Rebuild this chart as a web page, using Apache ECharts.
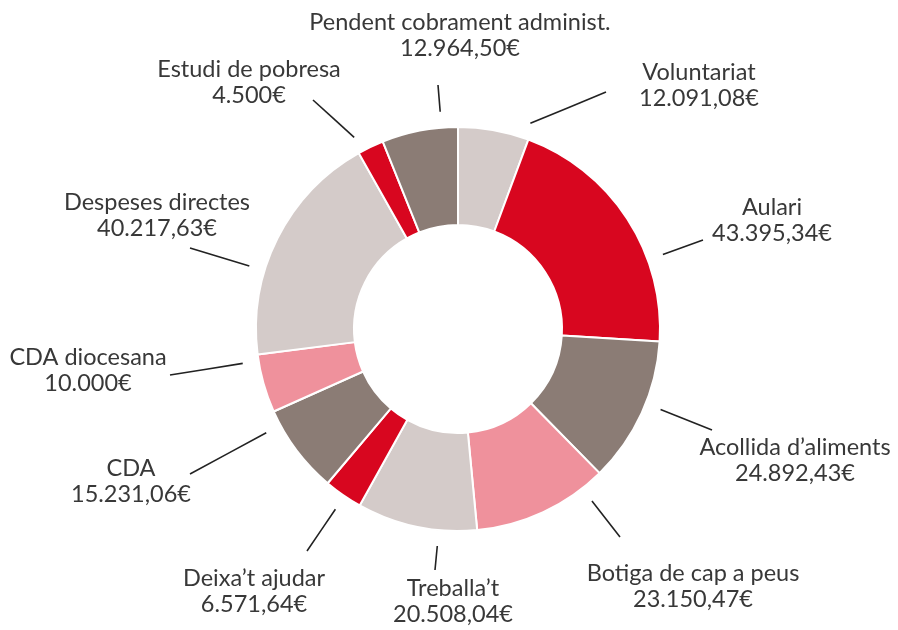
<!DOCTYPE html>
<html>
<head>
<meta charset="utf-8">
<script src="https://cdn.jsdelivr.net/npm/echarts@6/dist/echarts.min.js"></script>
<style>
  html, body { margin: 0; padding: 0; background: #ffffff; }
  #chart { width: 898px; height: 630px; }
</style>
</head>
<body>
<div id="chart"></div>
<script>
// Budget items, clockwise from the top of the ring
const categories = [
  'Voluntariat',
  'Aulari',
  'Acollida d\u2019aliments',
  'Botiga de cap a peus',
  'Treballa\u2019t',
  'Deixa\u2019t ajudar',
  'CDA',
  'CDA diocesana',
  'Despeses directes',
  'Estudi de pobresa',
  'Pendent cobrament administ.'
];
// Amounts in euros
const amounts = [
  12091.08, 43395.34, 24892.43, 23150.47, 20508.04,
  6571.64, 15231.06, 10000, 40217.63, 4500, 12964.50
];

// Fill colour for each slice
const RED = '#d8061f', BROWN = '#8b7c75', GREY = '#d4cbc9', PINK = '#ef919c';
const sliceColors = [GREY, RED, BROWN, PINK, GREY, RED, BROWN, PINK, GREY, RED, BROWN];

// Where each two-line label block is centred (px)
const labelSpots = [
  [699, 85], [772, 220], [795, 460], [693, 586], [453, 601],
  [254, 591], [131, 481], [88, 370], [157, 215], [249, 82], [460, 35]
];
// Where each guide line stops, as an offset from its label centre (px)
const guideEnds = [
  [-93, 7], [-69, 20], [-83, -30], [-73, -49], [-18, -31],
  [53, -40], [59, -7], [82, 5], [33, 33], [64, 18], [-22, 50]
];

const CENTER = [458, 329];
const RADIUS = [104, 202];
const GUIDE_RADIUS = 218;   // guides begin just outside the ring

// Catalan money format: 12.091,08€ / 10.000€
function euro(v) {
  const whole = Math.abs(v - Math.round(v)) < 1e-9;
  const parts = (whole ? Math.round(v).toString() : v.toFixed(2)).split('.');
  const int = parts[0].replace(/\B(?=(\d{3})+(?!\d))/g, '.');
  return int + (parts[1] ? ',' + parts[1] : '') + '\u20AC';
}

// angular span of every slice (degrees clockwise from 12 o'clock)
const total = amounts.reduce((a, b) => a + b, 0);
const spans = [];
amounts.reduce((acc, v) => {
  spans.push([acc / total * 360, (acc + v) / total * 360]);
  return acc + v;
}, 0);

const pieData = categories.map((name, i) => ({
  name: name,
  value: amounts[i],
  itemStyle: { color: sliceColors[i] }
}));

const chart = echarts.init(document.getElementById('chart'), null, { renderer: 'canvas' });

chart.setOption({
  backgroundColor: '#ffffff',
  animation: false,
  series: [
    {
      type: 'pie',
      center: CENTER,
      radius: RADIUS,
      startAngle: 90,
      clockwise: true,
      silent: true,
      avoidLabelOverlap: false,
      itemStyle: { borderColor: '#ffffff', borderWidth: 2 },
      label: {
        show: true,
        position: 'outside',
        formatter: p => p.name + '\n' + euro(p.value),
        fontFamily: 'Lato, "Open Sans", sans-serif',
        fontSize: 23.5,
        lineHeight: 26,
        color: '#383838',
        align: 'center'
      },
      labelLine: {
        show: true,
        length: 10,
        length2: 0,
        lineStyle: { color: '#222222', width: 1.6 }
      },
      labelLayout: function (params) {
        const i = params.dataIndex;
        const spot = labelSpots[i];
        const end = [spot[0] + guideEnds[i][0], spot[1] + guideEnds[i][1]];
        // start on a circle just outside the ring, aimed at the guide end
        // but kept within the slice's own arc
        let ang = Math.atan2(end[0] - CENTER[0], -(end[1] - CENTER[1])) * 180 / Math.PI;
        if (ang < 0) ang += 360;
        const lo = spans[i][0] + 1, hi = spans[i][1] - 1;
        ang = Math.min(hi, Math.max(lo, ang));
        const rad = ang * Math.PI / 180;
        const start = [
          CENTER[0] + GUIDE_RADIUS * Math.sin(rad),
          CENTER[1] - GUIDE_RADIUS * Math.cos(rad)
        ];
        return {
          x: spot[0],
          y: spot[1],
          align: 'center',
          verticalAlign: 'middle',
          labelLinePoints: [start, [(start[0] + end[0]) / 2, (start[1] + end[1]) / 2], end]
        };
      },
      data: pieData
    }
  ]
});
</script>
</body>
</html>
